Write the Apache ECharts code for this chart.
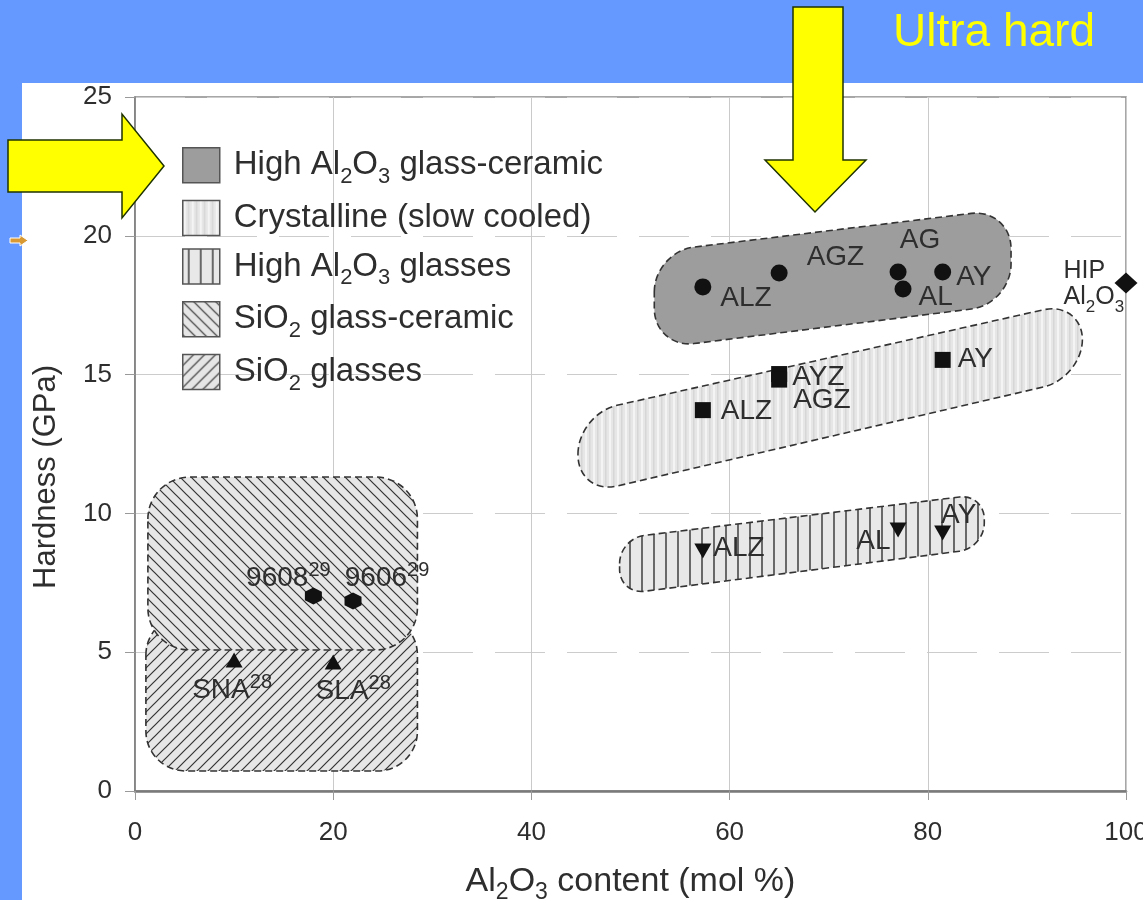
<!DOCTYPE html>
<html>
<head>
<meta charset="utf-8">
<script src="https://cdn.jsdelivr.net/npm/echarts@6/dist/echarts.min.js"></script>
<style>
  html, body { margin: 0; padding: 0; background: #6699ff; }
  #chart { width: 1143px; height: 900px; }
</style>
</head>
<body>
<div id="chart"></div>
<script>
// ---------- data ----------
const xTickStep = 20;
const yTickStep = 5;

// High Al2O3 glass-ceramic (circles)
const gcAlNames = ['ALZ', 'AGZ', 'AG', 'AL', 'AY'];
const gcAlX = [57.3, 65.0, 77.0, 77.5, 81.5];
const gcAlY = [18.16, 18.66, 18.70, 18.08, 18.70];

// Crystalline, slow cooled (squares)
const crystNames = ['ALZ', 'AYZ', 'AGZ', 'AY'];
const crystX = [57.3, 65.0, 65.0, 81.5];
const crystY = [13.72, 15.02, 14.82, 15.53];

// High Al2O3 glasses (down triangles)
const glAlNames = ['ALZ', 'AL', 'AY'];
const glAlX = [57.3, 77.0, 81.5];
const glAlY = [8.65, 9.40, 9.29];

// SiO2 glass-ceramic (hexagons)
const gcSiNames = ['9608', '9606'];
const gcSiRefs = ['29', '29'];
const gcSiX = [18.0, 22.0];
const gcSiY = [7.02, 6.84];

// SiO2 glasses (up triangles)
const glSiNames = ['SNA', 'SLA'];
const glSiRefs = ['28', '28'];
const glSiX = [10.0, 20.0];
const glSiY = [4.72, 4.65];

// HIP alumina
const hipX = [100];
const hipY = [18.3];

// Outline corners of each material field (Al2O3 mol %, GPa)
const regionGcAl = [[52.4, 19.42], [88.4, 20.98], [88.4, 17.54], [52.4, 15.94]];
const regionCryst = [[44.7, 13.58], [95.6, 17.65], [95.6, 14.88], [44.7, 10.66]];
const regionGlAl = [[48.9, 9.10], [85.7, 10.70], [85.7, 8.75], [48.9, 7.08]];
const regionGcSi = [[1.3, 11.31], [28.5, 11.31], [28.5, 5.08], [1.3, 5.08]];
const regionGlSi = [[1.1, 6.34], [28.5, 6.34], [28.5, 0.72], [1.1, 0.72]];

const legendNames = [
  'High Al2O3 glass-ceramic',
  'Crystalline (slow cooled)',
  'High Al2O3 glasses',
  'SiO2 glass-ceramic',
  'SiO2 glasses'
];

// ---------- styling helpers ----------
const FONT = '"Liberation Sans", Arial, Helvetica, sans-serif';
const INK = '#2e2e2e';

function tile(w, h, paint) {
  const c = document.createElement('canvas');
  c.width = w; c.height = h;
  paint(c.getContext('2d'), w, h);
  return { image: c, repeat: 'repeat' };
}

const fillGcAl = '#9d9d9d';
const fillCryst = tile(8, 8, (g, w, h) => {
  g.fillStyle = '#e6e6e6'; g.fillRect(0, 0, w, h);
  g.fillStyle = '#f4f4f4'; g.fillRect(1, 0, 2, h);
  g.fillStyle = '#d6d6d6'; g.fillRect(5, 0, 1.5, h);
});
const fillGlAl = tile(12, 12, (g, w, h) => {
  g.fillStyle = '#e8e8e8'; g.fillRect(0, 0, w, h);
  g.strokeStyle = '#333333'; g.lineWidth = 1.4;
  g.beginPath(); g.moveTo(6, 0); g.lineTo(6, h); g.stroke();
});
function hatch(forward) {
  return tile(11, 11, (g, w, h) => {
    g.fillStyle = '#e6e6e6'; g.fillRect(0, 0, w, h);
    g.strokeStyle = '#333333'; g.lineWidth = 1.2;
    g.beginPath();
    if (forward) {            // "/" lines
      g.moveTo(-1, h + 1); g.lineTo(w + 1, -1);
      g.moveTo(-1, 1); g.lineTo(1, -1);
      g.moveTo(w - 1, h + 1); g.lineTo(w + 1, h - 1);
    } else {                  // "\" lines
      g.moveTo(-1, -1); g.lineTo(w + 1, h + 1);
      g.moveTo(w - 1, -1); g.lineTo(w + 1, 1);
      g.moveTo(-1, h - 1); g.lineTo(1, h + 1);
    }
    g.stroke();
  });
}
const fillGcSi = hatch(false);
const fillGlSi = hatch(true);
const legendFills = [fillGcAl, fillCryst, fillGlAl, fillGcSi, fillGlSi];

function chem(text) {
  return text.replace('Al2O3', 'Al{sub|2}O{sub|3}').replace('SiO2', 'SiO{sub|2}');
}

// Rounded outline through the corner points (pixel space)
function roundedPath(pts, r) {
  const n = pts.length;
  const k = 0.552;
  let d = '';
  for (let i = 0; i < n; i++) {
    const p0 = pts[(i - 1 + n) % n], p1 = pts[i], p2 = pts[(i + 1) % n];
    const d1 = Math.hypot(p0[0] - p1[0], p0[1] - p1[1]);
    const d2 = Math.hypot(p2[0] - p1[0], p2[1] - p1[1]);
    const r1 = Math.min(r, d1 / 2), r2 = Math.min(r, d2 / 2);
    const a = [p1[0] + (p0[0] - p1[0]) * r1 / d1, p1[1] + (p0[1] - p1[1]) * r1 / d1];
    const b = [p1[0] + (p2[0] - p1[0]) * r2 / d2, p1[1] + (p2[1] - p1[1]) * r2 / d2];
    const c1 = [a[0] + (p1[0] - a[0]) * k, a[1] + (p1[1] - a[1]) * k];
    const c2 = [b[0] + (p1[0] - b[0]) * k, b[1] + (p1[1] - b[1]) * k];
    d += (i === 0 ? 'M' : 'L') + a[0] + ' ' + a[1] +
      ' C' + c1[0] + ' ' + c1[1] + ' ' + c2[0] + ' ' + c2[1] + ' ' + b[0] + ' ' + b[1] + ' ';
  }
  return d + 'Z';
}

function regionSeries(name, verts, radius, fill) {
  return {
    type: 'custom',
    name: name,
    z: 1,
    silent: true,
    data: [verts[0]],
    renderItem: (params, api) => {
      const pts = verts.map(v => api.coord(v));
      return {
        type: 'path',
        shape: { pathData: roundedPath(pts, radius) },
        style: { fill: fill, stroke: '#333333', lineWidth: 1.6, lineDash: [7, 4] }
      };
    }
  };
}

const supRich = {
  sup: { fontSize: 20, fontFamily: FONT, color: INK, verticalAlign: 'top', height: 18 },
  sub: { fontSize: 17, fontFamily: FONT, color: INK, verticalAlign: 'bottom', height: 6 }
};

function pointSeries(names, xs, ys, symbol, size, rotate, places, refs) {
  return {
    type: 'scatter',
    symbol: symbol,
    symbolSize: size,
    symbolRotate: rotate,
    z: 5,
    silent: true,
    itemStyle: { color: '#111111', opacity: 1 },
    emphasis: { disabled: true },
    data: names.map((n, i) => ({
      name: n,
      value: [xs[i], ys[i]],
      label: { position: places[i][0], offset: places[i][1] }
    })),
    label: {
      show: true,
      formatter: p => refs ? p.name + '{sup|' + refs[p.dataIndex] + '}' : p.name,
      fontSize: 28,
      lineHeight: 34,
      fontFamily: FONT,
      color: INK,
      distance: 5,
      rich: supRich
    }
  };
}

// label placement for each point: [side, [dx, dy]]
const gcAlLabelAt = [['right', [4, 11]], ['right', [14, -16]], ['top', [22, -1]], ['right', [2, 8]], ['right', [0, 5]]];
const crystLabelAt = [['right', [5, 1]], ['right', [0, 3]], ['right', [1, 21]], ['right', [2, -1]]];
const glAlLabelAt = [['right', [-3, -3]], ['left', [6, 11]], ['top', [16, 12]]];
const gcSiLabelAt = [['top', [-25, 13]], ['top', [34, 8]]];
const glSiLabelAt = [['bottom', [-2, 1]], ['bottom', [20, 0]]];

const hexPath = 'path://M0,-10L8.66,-5L8.66,5L0,10L-8.66,5L-8.66,-5Z';

const series = [
  regionSeries(legendNames[4], regionGlSi, 40, fillGlSi),
  regionSeries(legendNames[3], regionGcSi, 42, fillGcSi),
  regionSeries(legendNames[2], regionGlAl, 25, fillGlAl),
  regionSeries(legendNames[1], regionCryst, 40, fillCryst),
  regionSeries(legendNames[0], regionGcAl, 40, fillGcAl),
  pointSeries(gcAlNames, gcAlX, gcAlY, 'circle', 17, 0, gcAlLabelAt),
  pointSeries(crystNames, crystX, crystY, 'rect', 16, 0, crystLabelAt),
  pointSeries(glAlNames, glAlX, glAlY, 'triangle', [17, 15], 180, glAlLabelAt),
  pointSeries(gcSiNames, gcSiX, gcSiY, hexPath, 17, 0, gcSiLabelAt, gcSiRefs),
  pointSeries(glSiNames, glSiX, glSiY, 'triangle', [17, 15], 0, glSiLabelAt, glSiRefs),
  {
    type: 'scatter',
    symbol: 'diamond',
    symbolSize: [23, 21],
    z: 5,
    silent: true,
    itemStyle: { color: '#111111', opacity: 1 },
    emphasis: { disabled: true },
    data: hipX.map((x, i) => ({ name: 'HIP', value: [x, hipY[i]] })),
    label: {
      show: true,
      position: 'left',
      align: 'left',
      offset: [-46, 1],
      formatter: 'HIP\n' + chem('Al2O3'),
      fontSize: 25,
      lineHeight: 26,
      fontFamily: FONT,
      color: INK,
      rich: supRich
    }
  }
];

const chart = echarts.init(document.getElementById('chart'), null, { renderer: 'canvas' });

chart.setOption({
  animation: false,
  backgroundColor: '#6699ff',
  grid: {
    left: 135, right: 17, top: 97, bottom: 109,
    outerBoundsMode: 'none',
    show: true, borderColor: '#8a8a8a', borderWidth: 1.5, backgroundColor: 'transparent'
  },
  legend: {
    orient: 'vertical',
    left: 182,
    top: 147,
    padding: 0,
    itemGap: 12,
    itemWidth: 37,
    itemHeight: 35,
    icon: 'rect',
    selectedMode: false,
    data: legendNames.map((n, i) => ({
      name: n,
      itemStyle: { color: legendFills[i], borderColor: '#555555', borderWidth: 1.5 }
    })),
    formatter: n => chem(n),
    textStyle: {
      fontSize: 33, fontFamily: FONT, color: INK, lineHeight: 35, padding: [0, 0, 0, 9],
      rich: { sub: { fontSize: 22, fontFamily: FONT, color: INK, verticalAlign: 'bottom', height: 12 } }
    }
  },
  xAxis: {
    type: 'value',
    min: 0, max: 100, interval: xTickStep,
    name: chem('Al2O3') + ' content (mol %)',
    nameLocation: 'middle',
    nameGap: 71,
    nameTextStyle: {
      fontSize: 34, fontFamily: FONT, color: INK, lineHeight: 40,
      rich: { sub: { fontSize: 23, fontFamily: FONT, color: INK, verticalAlign: 'bottom', height: 19 } }
    },
    axisLine: { show: true, lineStyle: { color: '#7a7a7a', width: 2.5 } },
    axisTick: { show: true, length: 9, lineStyle: { color: '#9a9a9a' } },
    axisLabel: { fontSize: 26, fontFamily: FONT, color: INK, margin: 29 },
    splitLine: { show: true, lineStyle: { color: '#cacaca', width: 1 } }
  },
  yAxis: {
    type: 'value',
    min: 0, max: 25, interval: yTickStep,
    name: 'Hardness (GPa)',
    nameLocation: 'middle',
    nameGap: 73,
    nameTextStyle: { fontSize: 31, fontFamily: FONT, color: INK, padding: [0, 66, 0, 0] },
    axisLine: { show: true, lineStyle: { color: '#7a7a7a', width: 1.5 } },
    axisTick: { show: true, length: 10, lineStyle: { color: '#9a9a9a' } },
    axisLabel: { fontSize: 26, fontFamily: FONT, color: INK, margin: 23 },
    splitLine: { show: true, lineStyle: { color: '#cccccc', width: 1, type: [50, 22] } }
  },
  graphic: [
    { type: 'rect', z: -100, shape: { x: 22, y: 83, width: 1121, height: 817 }, style: { fill: '#ffffff' } },
    {
      type: 'text', z: 100, x: 893, y: 33,
      style: { text: 'Ultra hard', fill: '#ffff00', fontSize: 46, fontFamily: FONT, align: 'left', verticalAlign: 'middle' }
    },
    {
      type: 'polygon', z: 100,
      shape: { points: [[8, 140], [122, 140], [122, 114], [164, 166], [122, 218], [122, 192], [8, 192]] },
      style: { fill: '#ffff00', stroke: '#1f3300', lineWidth: 1.5 }
    },
    {
      type: 'polygon', z: 100,
      shape: { points: [[793, 7], [843, 7], [843, 160], [866, 160], [815, 212], [765, 160], [793, 160]] },
      style: { fill: '#ffff00', stroke: '#1f3300', lineWidth: 1.5 }
    },
    {
      type: 'polygon', z: 100,
      shape: { points: [[10, 238], [20, 238], [20, 235], [28, 240.5], [20, 246], [20, 243], [10, 243]] },
      style: { fill: '#d99a34', stroke: '#ffffff', lineWidth: 1 }
    }
  ],
  series: series
});
</script>
</body>
</html>
